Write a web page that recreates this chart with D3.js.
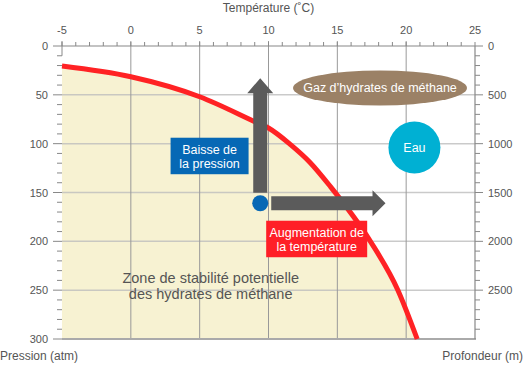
<!DOCTYPE html>
<html><head><meta charset="utf-8">
<script src="https://cdn.jsdelivr.net/npm/d3@7/dist/d3.min.js"></script>
<style>
html,body{margin:0;padding:0;background:#fff;}
svg{display:block;font-family:"Liberation Sans",Arial,Helvetica,sans-serif;}
</style></head>
<body>
<svg id="chart" width="523" height="368"></svg>
<script>
// ---- data ----
const tempTicks = [-5, 0, 5, 10, 15, 20, 25];
const pressureTicks = [0, 50, 100, 150, 200, 250, 300];
const depthTicks = [0, 500, 1000, 1500, 2000, 2500];
// stability boundary (temperature °C, pressure atm)
const curveTemp = [-5, 0, 5, 9, 10, 11.6, 13, 14.5, 17.4, 19.4, 20.8];
const curvePressure = [20.5, 31.5, 52, 77.5, 84, 101, 119, 144, 200, 250, 300];
// start point and arrows
const startPoint = {t: 9.4, p: 161};
const arrowUpEnd = 33;      // pressure at arrow tip
const arrowRightEnd = 18.5; // temperature at arrow tip
const gasLabel = {t: 18.1, p: 43, text: "Gaz d\u2019hydrates de méthane"};
const waterLabel = {t: 20.6, p: 104, text: "Eau"};
const pressureBox = {t: 5.72, p: 112.6, lines: ["Baisse de", "la pression"]};
const tempBox = {t: 13.5, p: 197.6, lines: ["Augmentation de", "la température"]};
const zoneLabel = {t: 5.8, p: 243, lines: ["Zone de stabilité potentielle", "des hydrates de méthane"]};

// ---- scales ----
const x = d3.scaleLinear().domain([-5, 25]).range([62, 475]);
const y = d3.scaleLinear().domain([0, 300]).range([46, 339]);
const yd = d3.scaleLinear().domain([0, 3000]).range([46, 339]);

const svg = d3.select("#chart");
const txt = "#555";

// fill area
const pts = curveTemp.map((t, i) => [t, curvePressure[i]]);
const area = d3.area().x(d => x(d[0])).y0(y(300)).y1(d => y(d[1])).curve(d3.curveMonotoneX);
svg.append("path").datum(pts).attr("d", area).attr("fill", "#f7f2d2");

// horizontal gridlines
svg.append("g").selectAll("line").data(pressureTicks.filter(d => d > 0 && d < 300)).join("line")
  .attr("x1", x(-5)).attr("x2", x(25)).attr("y1", d => y(d)).attr("y2", d => y(d))
  .attr("stroke", "#bdbdbd").attr("stroke-opacity", 0.8).attr("stroke-width", 1.5);
// vertical gridlines
svg.append("g").selectAll("line").data(tempTicks.filter(d => d > -5 && d < 25)).join("line")
  .attr("x1", d => x(d)).attr("x2", d => x(d)).attr("y1", y(0) - 5).attr("y2", y(300))
  .attr("stroke", "#999").attr("stroke-width", 1);

// top axis
const topAxis = svg.append("g");
topAxis.append("line").attr("x1", x(-5)).attr("x2", x(25)).attr("y1", y(0)).attr("y2", y(0))
  .attr("stroke", "#888").attr("stroke-width", 1.2);
topAxis.selectAll("line.minor").data(d3.range(-5, 26, 1)).join("line").attr("class", "minor")
  .attr("x1", d => x(d)).attr("x2", d => x(d)).attr("y1", y(0) - 4).attr("y2", y(0))
  .attr("stroke", "#888");
topAxis.append("line").attr("x1", x(-5)).attr("x2", x(-5)).attr("y1", y(0) - 5).attr("y2", y(10))
  .attr("stroke", "#888");
topAxis.selectAll("text").data(tempTicks).join("text")
  .attr("x", d => x(d)).attr("y", 34).attr("text-anchor", "middle")
  .attr("font-size", 11).attr("fill", txt).text(d => d);
svg.append("text").attr("x", x(10)).attr("y", 12).attr("text-anchor", "middle")
  .attr("font-size", 12).attr("fill", txt).text("Température (\u02DAC)");

// left axis (pressure)
const left = svg.append("g");
left.selectAll("line").data(d3.range(0, 301, 10)).join("line")
  .attr("x1", d => d % 50 === 0 ? 53 : 57).attr("x2", 62)
  .attr("y1", d => y(d)).attr("y2", d => y(d)).attr("stroke", "#888");
left.selectAll("text").data(pressureTicks).join("text")
  .attr("x", 48).attr("y", d => y(d) + 4).attr("text-anchor", "end")
  .attr("font-size", 11).attr("fill", txt).text(d => d);
svg.append("text").attr("x", 0).attr("y", 360).attr("font-size", 12).attr("fill", txt).text("Pression (atm)");

// bottom line
svg.append("line").attr("x1", x(-5)).attr("x2", x(25) + 1).attr("y1", y(300)).attr("y2", y(300))
  .attr("stroke", "#aaa").attr("stroke-width", 2);

// right axis (depth)
const right = svg.append("g");
right.append("line").attr("x1", x(25)).attr("x2", x(25)).attr("y1", y(0)).attr("y2", y(300))
  .attr("stroke", "#888").attr("stroke-width", 1.2);
right.selectAll("line.t").data(d3.range(0, 3000, 100)).join("line").attr("class", "t")
  .attr("x1", x(25)).attr("x2", d => d % 500 === 0 ? x(25) + 8 : x(25) + 5)
  .attr("y1", d => yd(d)).attr("y2", d => yd(d)).attr("stroke", "#888");
right.selectAll("text").data(depthTicks).join("text")
  .attr("x", 488).attr("y", d => yd(d) + 4).attr("font-size", 11).attr("fill", txt).text(d => d);
svg.append("text").attr("x", 523).attr("y", 360).attr("text-anchor", "end")
  .attr("font-size", 12).attr("fill", txt).text("Profondeur (m)");

// curve
const line = d3.line().x(d => x(d[0])).y(d => y(d[1])).curve(d3.curveMonotoneX);
svg.append("path").datum(pts).attr("d", line).attr("fill", "none")
  .attr("stroke", "#ff2224").attr("stroke-width", 5);

// arrows
const arrowCol = "#5b5b5b";
const cx = x(startPoint.t), cy = y(startPoint.p);
const sw = 7, hw = 13, hl = 15;
const upTip = y(arrowUpEnd);
svg.append("path").attr("fill", arrowCol).attr("d",
  `M${cx - sw},${cy - 10.5} L${cx - sw},${upTip + hl} L${cx - hw},${upTip + hl} L${cx},${upTip} L${cx + hw},${upTip + hl} L${cx + sw},${upTip + hl} L${cx + sw},${cy - 10.5} Z`);
const rTip = x(arrowRightEnd);
svg.append("path").attr("fill", arrowCol).attr("d",
  `M${cx + 11},${cy - sw} L${rTip - 13},${cy - sw} L${rTip - 13},${cy - hw} L${rTip},${cy} L${rTip - 13},${cy + hw} L${rTip - 13},${cy + sw} L${cx + 11},${cy + sw} Z`);
svg.append("circle").attr("cx", cx).attr("cy", cy).attr("r", 8).attr("fill", "#0768b5");

// gas ellipse
svg.append("ellipse").attr("cx", x(gasLabel.t)).attr("cy", y(gasLabel.p)).attr("rx", 87).attr("ry", 17.5)
  .attr("fill", "#9b8166");
svg.append("text").attr("x", x(gasLabel.t)).attr("y", y(gasLabel.p) + 4.5).attr("text-anchor", "middle")
  .attr("font-size", 12.5).attr("fill", "#fff").text(gasLabel.text);

// water circle
svg.append("circle").attr("cx", x(waterLabel.t)).attr("cy", y(waterLabel.p)).attr("r", 26).attr("fill", "#00b0d3");
svg.append("text").attr("x", x(waterLabel.t)).attr("y", y(waterLabel.p) + 4.5).attr("text-anchor", "middle")
  .attr("font-size", 12.5).attr("fill", "#fff").text(waterLabel.text);

// text boxes
function box(b, w, h, fill) {
  const bx = x(b.t), by = y(b.p);
  svg.append("rect").attr("x", bx - w / 2).attr("y", by - h / 2).attr("width", w).attr("height", h).attr("fill", fill);
  svg.append("text").attr("text-anchor", "middle").attr("font-size", 12.5).attr("fill", "#fff")
    .selectAll("tspan").data(b.lines).join("tspan")
    .attr("x", bx).attr("y", (d, i) => by - 2 + i * 14.5).text(d => d);
}
box(pressureBox, 78, 36.5, "#0668b5");
box(tempBox, 101, 36.5, "#ff1f27");

// zone label
svg.append("text").attr("text-anchor", "middle").attr("font-size", 14.5).attr("fill", "#555")
  .selectAll("tspan").data(zoneLabel.lines).join("tspan")
  .attr("x", x(zoneLabel.t)).attr("y", (d, i) => y(zoneLabel.p) + i * 16).text(d => d);
</script>
</body></html>
